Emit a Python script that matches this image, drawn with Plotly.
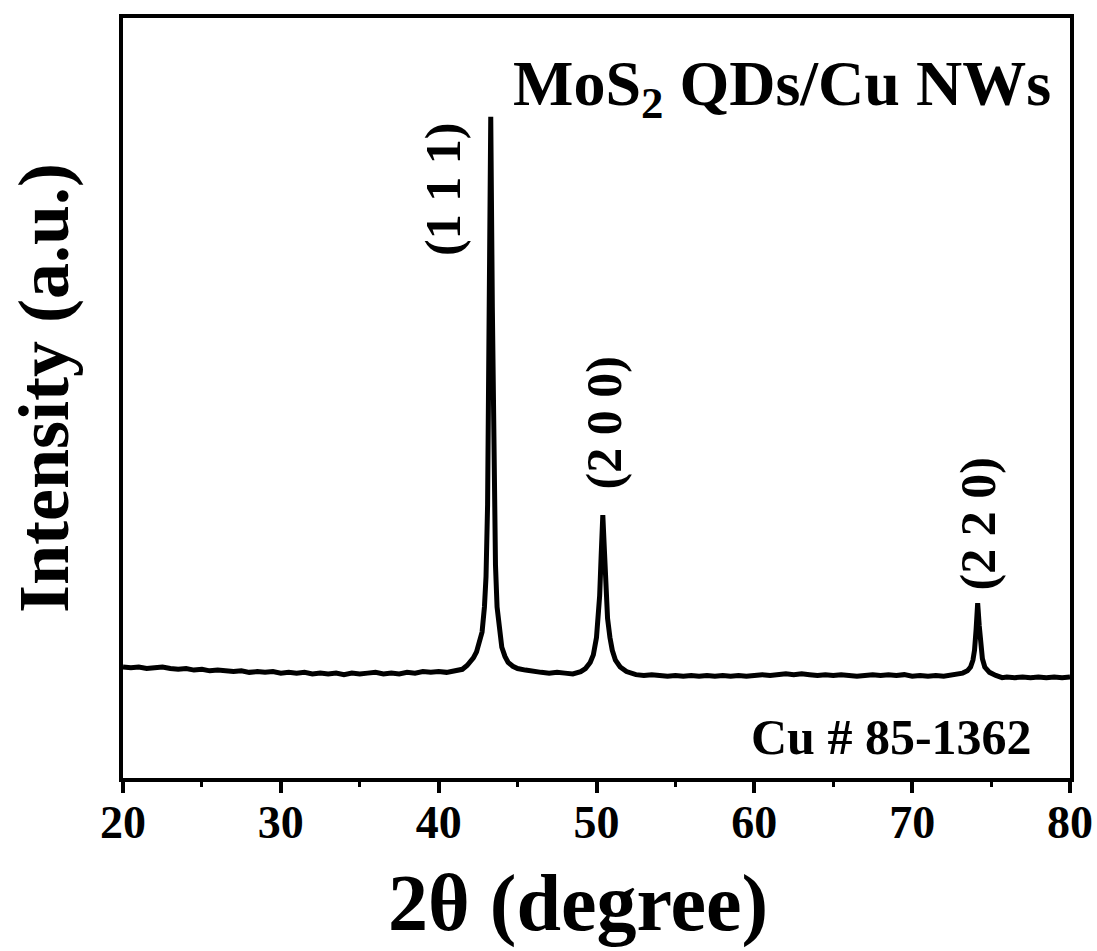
import plotly.graph_objects as go

two_theta = [
    20.0, 20.5, 21.0, 21.5, 22.0, 22.5, 23.0, 23.5, 24.0, 24.5,
    25.0, 25.5, 26.0, 26.5, 27.0, 27.5, 28.0, 28.5, 29.0, 29.5,
    30.0, 30.5, 31.0, 31.5, 32.0, 32.5, 33.0, 33.5, 34.0, 34.5,
    35.0, 35.5, 36.0, 36.5, 37.0, 37.5, 38.0, 38.5, 39.0, 39.5,
    40.0, 40.5, 41.0, 41.5, 41.8, 42.0, 42.2, 42.4, 42.6, 42.75,
    42.9, 43.0, 43.1, 43.2, 43.3, 43.4, 43.5, 43.6, 43.7, 43.85,
    44.0, 44.2, 44.4, 44.7, 45.0, 45.5, 46.0, 46.5, 47.0, 47.5,
    48.0, 48.5, 49.0, 49.3, 49.6, 49.8, 50.0, 50.1, 50.2, 50.3,
    50.4, 50.5, 50.6, 50.7, 50.85, 51.0, 51.2, 51.5, 51.9, 52.3,
    52.5, 53.0, 53.5, 54.0, 54.5, 55.0, 55.5, 56.0, 56.5, 57.0,
    57.5, 58.0, 58.5, 59.0, 59.5, 60.0, 60.5, 61.0, 61.5, 62.0,
    62.5, 63.0, 63.5, 64.0, 64.5, 65.0, 65.5, 66.0, 66.5, 67.0,
    67.5, 68.0, 68.5, 69.0, 69.5, 70.0, 70.5, 71.0, 71.5, 72.0,
    72.5, 72.8, 73.2, 73.5, 73.7, 73.85, 73.95, 74.05, 74.15, 74.25,
    74.35, 74.45, 74.6, 74.9, 75.3, 75.7, 76.0, 76.5, 77.0, 77.5,
    78.0, 78.5, 79.0, 79.5, 80.0,
]
intensity = [
    146, 145, 146, 144, 145, 146, 144, 143, 144, 142,
    143, 141, 142, 141, 140, 141, 139, 140, 139, 140,
    138, 139, 138, 139, 137, 138, 137, 138, 136, 138,
    137, 138, 139, 137, 138, 137, 139, 138, 140, 139,
    140, 139, 141, 143, 148, 152, 158, 166, 178, 192,
    225, 265, 360, 600, 870, 620, 390, 280, 225, 190,
    172, 160, 152, 147, 144, 142, 140, 139, 138, 139,
    138, 137, 140, 144, 152, 162, 185, 205, 240, 295,
    346, 300, 245, 210, 185, 168, 155, 146, 140, 137,
    136, 135, 136, 135, 134, 135, 134, 135, 134, 135,
    134, 135, 134, 135, 134, 135, 136, 135, 136, 137,
    136, 137, 136, 135, 136, 135, 136, 135, 134, 135,
    136, 135, 136, 135, 136, 134, 135, 134, 135, 134,
    135, 136, 138, 141, 146, 155, 168, 195, 230, 200,
    172, 157, 146, 139, 135, 132, 133, 132, 133, 132,
    133, 132, 133, 132, 133,
]

x_ticks = [20, 30, 40, 50, 60, 70, 80]
peak_labels = ["(1 1 1)", "(2 0 0)", "(2 2 0)"]
peak_label_x = [40.27, 50.5, 74.2]

FONT = "Liberation Serif"

fig = go.Figure()
fig.add_trace(go.Scatter(
    x=two_theta, y=intensity, mode="lines",
    line=dict(color="black", width=5),
    showlegend=False, hoverinfo="skip",
))

L, R, T, B = 123, 27, 18, 173
W, H = 1097, 951
pw, ph = W - L - R, H - T - B

def px_to_paper_y(py):
    return (H - B - py) / ph

def px_to_paper_x(px):
    return (px - L) / pw

fig.update_layout(
    width=W, height=H,
    margin=dict(l=L, r=R, t=T, b=B, pad=0, autoexpand=False),
    plot_bgcolor="white", paper_bgcolor="white",
    font=dict(family=FONT, color="black"),
    xaxis=dict(
        range=[20, 80], tickvals=x_ticks, ticktext=[str(v) for v in x_ticks],
        showline=True, linecolor="black", linewidth=4, mirror=True,
        ticks="outside", ticklen=11, tickwidth=4, tickcolor="black",
        minor=dict(ticks="outside", ticklen=5, tickwidth=3, dtick=5, tickcolor="black"),
        showgrid=False, zeroline=False, ticklabelstandoff=-10, automargin=False,
        tickfont=dict(family=FONT, size=46, weight="bold", color="black"),
    ),
    yaxis=dict(
        range=[0, 1000], showticklabels=False, ticks="",
        showline=True, linecolor="black", linewidth=4, mirror=True,
        showgrid=False, zeroline=False, automargin=False,
    ),
)

annotations = [
    dict(text="2θ (degree)", xref="paper", yref="paper",
         x=px_to_paper_x(578), y=px_to_paper_y(903),
         xanchor="center", yanchor="middle", showarrow=False,
         font=dict(family=FONT, size=80, weight="bold")),
    dict(text="Intensity (a.u.)", xref="paper", yref="paper",
         x=px_to_paper_x(44), y=px_to_paper_y(388), textangle=-90,
         xanchor="center", yanchor="middle", showarrow=False,
         font=dict(family=FONT, size=72, weight="bold")),
    dict(text="MoS<sub>2</sub> QDs/Cu NWs", xref="paper", yref="paper",
         x=px_to_paper_x(1053), y=px_to_paper_y(88),
         xanchor="right", yanchor="middle", showarrow=False,
         font=dict(family=FONT, size=64, weight="bold")),
    dict(text="Cu # 85-1362", xref="paper", yref="paper",
         x=px_to_paper_x(1034), y=px_to_paper_y(737),
         xanchor="right", yanchor="middle", showarrow=False,
         font=dict(family=FONT, size=50, weight="bold")),
]
label_y_px = [189, 423, 524]
for txt, lx, ly in zip(peak_labels, peak_label_x, label_y_px):
    annotations.append(dict(
        text=txt, xref="x", yref="paper", x=lx, y=px_to_paper_y(ly),
        textangle=-90, xanchor="center", yanchor="middle", showarrow=False,
        font=dict(family=FONT, size=50, weight="bold"),
    ))
fig.update_layout(annotations=annotations)

fig.write_html("out.html")
